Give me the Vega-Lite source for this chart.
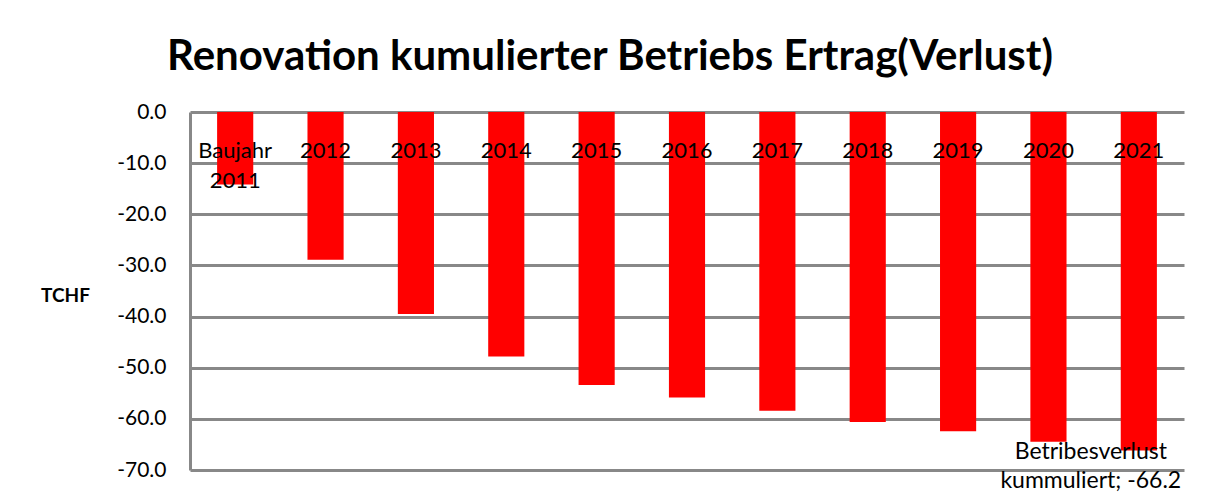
{
  "$schema": "https://vega.github.io/schema/vega-lite/v6.json",
  "width": 994,
  "height": 358,
  "autosize": {"type": "none"},
  "padding": {"left": 190, "top": 112, "right": 27, "bottom": 25},
  "background": "white",
  "config": {"view": {"stroke": null}},
  "title": {
    "text": "Renovation kumulierter Betriebs Ertrag(Verlust)",
    "font": "Lato",
    "fontSize": 42,
    "fontWeight": "bold",
    "color": "black",
    "anchor": "middle",
    "dx": -77,
    "offset": -11,
    "baseline": "alphabetic"
  },
  "data": {
    "values": [
      {"cat": "Baujahr\n2011", "value": -14.2, "note": null},
      {"cat": "2012", "value": -28.9, "note": null},
      {"cat": "2013", "value": -39.5, "note": null},
      {"cat": "2014", "value": -47.8, "note": null},
      {"cat": "2015", "value": -53.4, "note": null},
      {"cat": "2016", "value": -55.8, "note": null},
      {"cat": "2017", "value": -58.4, "note": null},
      {"cat": "2018", "value": -60.6, "note": null},
      {"cat": "2019", "value": -62.4, "note": null},
      {"cat": "2020", "value": -64.5, "note": null},
      {"cat": "2021", "value": -66.2, "note": "Betribesverlust\nkummuliert; -66.2"}
    ]
  },
  "encoding": {
    "x": {
      "field": "cat",
      "type": "nominal",
      "sort": null,
      "axis": null,
      "scale": {"paddingInner": 0.6, "paddingOuter": 0.3}
    }
  },
  "layer": [
    {
      "mark": {"type": "bar", "color": "#FF0000"},
      "encoding": {
        "y": {
          "field": "value",
          "type": "quantitative",
          "scale": {"domain": [-70, 0], "nice": false, "zero": false},
          "axis": {
            "values": [0, -10, -20, -30, -40, -50, -60, -70],
            "format": ".1f",
            "labelExpr": "replace(datum.label, '\u2212', '-')",
            "labelFont": "Lato",
            "labelFontSize": 21,
            "labelColor": "black",
            "labelPadding": 24,
            "ticks": false,
            "domainColor": "#888888",
            "domainWidth": 3,
            "gridColor": "#888888",
            "gridWidth": 3,
            "gridOpacity": 1,
            "title": "TCHF",
            "titleFont": "Lato",
            "titleFontSize": 19,
            "titleFontWeight": "bold",
            "titleColor": "black",
            "titleAngle": 0,
            "titleAlign": "center",
            "titleBaseline": "middle",
            "titleX": -125,
            "titleY": 183
          }
        }
      }
    },
    {
      "mark": {
        "type": "text",
        "font": "Lato",
        "fontSize": 22,
        "color": "black",
        "baseline": "alphabetic",
        "align": "center",
        "lineBreak": "\n",
        "lineHeight": 30
      },
      "encoding": {
        "y": {"datum": -8.9, "type": "quantitative"},
        "text": {"field": "cat"}
      }
    },
    {
      "transform": [{"filter": "datum.note != null"}],
      "mark": {
        "type": "text",
        "font": "Lato",
        "fontSize": 23,
        "color": "black",
        "baseline": "alphabetic",
        "align": "center",
        "lineBreak": "\n",
        "lineHeight": 29,
        "dx": -48,
        "dy": 8
      },
      "encoding": {
        "y": {"field": "value", "type": "quantitative"},
        "text": {"field": "note"}
      }
    }
  ]
}
